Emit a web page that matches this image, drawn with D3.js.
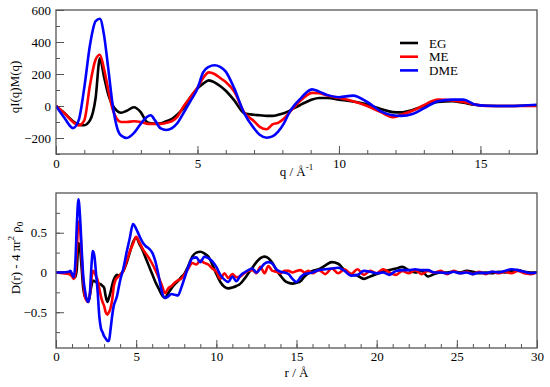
<!DOCTYPE html>
<html>
<head>
<meta charset="utf-8">
<script src="https://cdn.jsdelivr.net/npm/d3@7"></script>
<style>
  body { margin: 0; background: #fff; }
  svg text { font-family: "Liberation Serif", "Times New Roman", serif; fill: #000; }
</style>
</head>
<body>
<svg id="chart" width="550" height="387"></svg>
<script>
// series
const seriesNames = ['EG', 'ME', 'DME'];
const seriesColors = ['#000000', '#ff0000', '#0000ff'];

// top panel: qI(q)M(q) vs q
const qValues = [0, 0.3, 0.6, 0.8, 1.0, 1.2, 1.4, 1.55, 1.7, 1.85,
  2.0, 2.15, 2.3, 2.5, 2.75, 3.0, 3.2, 3.35, 3.5, 3.7,
  3.9, 4.1, 4.3, 4.5, 4.75, 5.0, 5.2, 5.4, 5.6, 5.8,
  6.0, 6.3, 6.65, 7.0, 7.2, 7.45, 7.65, 7.85, 8.05, 8.25,
  8.45, 8.65, 8.85, 9.05, 9.3, 9.6, 10.0, 10.5, 11.0, 11.5,
  11.9, 12.2, 12.6, 13.0, 13.5, 14.0, 14.4, 14.8, 15.2, 16.0,
  17.0];
const qEG = [0, -45, -95, -115, -120, -90, 50, 298, 180, 70,
  5, -30, -42, -30, -8, -40, -98, -108, -110, -108,
  -95, -80, -52, -15, 55, 110, 140, 160, 148, 125,
  95, 35, -45, -55, -58, -62, -62, -55, -45, -30,
  -10, 8, 25, 40, 50, 50, 40, 28, 10, -20,
  -38, -40, -25, 0, 25, 30, 20, 8, 2, 0,
  5];
const qME = [0, -45, -100, -122, -90, 130, 290, 320, 230, 100,
  -20, -80, -100, -100, -95, -100, -110, -112, -112, -112,
  -105, -95, -65, -5, 55, 115, 175, 210, 200, 175,
  150, 90, -40, -95, -130, -145, -115, -105, -80, -40,
  0, 35, 65, 82, 80, 65, 50, 30, 0, -40,
  -70, -55, -30, 5, 40, 35, 25, 10, 0, 0,
  0];
const qDME = [0, -75, -138, -90, 115, 380, 530, 545, 440, 230,
  10, -130, -185, -200, -170, -110, -70, -58, -90, -140,
  -150, -138, -105, -46, 30, 110, 210, 245, 255, 245,
  215, 110, -45, -140, -180, -198, -190, -160, -110, -40,
  10, 48, 85, 104, 90, 68, 55, 65, 25, -35,
  -58, -62, -50, -15, 30, 40, 40, 10, 2, 0,
  8];

// bottom panel: D(r) - 4 pi r^2 rho0 vs r
const rValues = [0, 0.4, 0.8, 0.9, 1.0, 1.1, 1.2, 1.3, 1.4, 1.5,
  1.6, 1.7, 1.8, 1.9, 2.0, 2.1, 2.2, 2.3, 2.4, 2.5,
  2.6, 2.7, 2.8, 2.9, 3.0, 3.1, 3.2, 3.3, 3.4, 3.5,
  3.6, 3.7, 3.8, 3.9, 4.0,
  4.2, 4.4, 4.6, 4.8, 5.0, 5.2, 5.4, 5.6, 5.8, 6.0,
  6.2, 6.4, 6.6, 6.8, 7.0, 7.2, 7.4, 7.6, 7.8, 8.0,
  8.25, 8.5, 8.75, 9.0, 9.25, 9.5, 9.75, 10.0,
  10.25, 10.5, 10.75, 11.0, 11.25, 11.5, 11.75, 12.0,
  12.25, 12.5, 12.75, 13.0, 13.25, 13.5, 13.75, 14.0,
  14.25, 14.5, 14.75, 15.0, 15.25, 15.5, 15.75, 16.0,
  16.4, 16.8, 17.2, 17.6, 18.0, 18.4, 18.8, 19.2, 19.6, 20.0,
  20.4, 20.8, 21.2, 21.6, 22.0, 22.4, 22.8, 23.2, 23.6, 24.0,
  24.4, 24.8, 25.2, 25.6, 26.0, 26.4, 26.8, 27.2, 27.6, 28.0,
  28.4, 28.8, 29.2, 29.6, 30.0];
const dEG = [0, 0, 0, -0.01, -0.02, -0.04, -0.06, 0.05, 0.37, 0.3,
  0.05, -0.2, -0.3, -0.33, -0.37, -0.3, -0.18, -0.1, -0.11, -0.12,
  -0.13, -0.14, -0.15, -0.17, -0.19, -0.3, -0.37, -0.32, -0.25, -0.16,
  -0.09, -0.05, -0.03, -0.04, -0.03,
  0.02, 0.12, 0.25, 0.38, 0.44, 0.36, 0.28, 0.18, 0.08, -0.02,
  -0.12, -0.2, -0.28, -0.32, -0.26, -0.2, -0.15, -0.11, -0.06, -0.02,
  0.08, 0.2, 0.25, 0.26, 0.24, 0.2, 0.1, -0.02,
  -0.12, -0.18, -0.2, -0.19, -0.17, -0.14, -0.08, -0.01,
  0.06, 0.13, 0.18, 0.2, 0.18, 0.12, 0.03, -0.04,
  -0.1, -0.13, -0.14, -0.13, -0.11, -0.05, -0.01, 0.02,
  0.04, 0.09, 0.13, 0.11, 0.03, -0.02, -0.04, -0.08, -0.05, -0.02,
  0.01, 0.03, 0.05, 0.07, 0.03, 0.0, 0.02, -0.05, -0.02, 0.0,
  0.0, 0.01, 0.0, 0.02, 0.01, -0.01, 0.0, -0.01, 0.01, 0.0,
  0.02, 0.03, 0.01, 0.0, 0.0];
const dME = [0, -0.01, -0.02, -0.03, -0.05, -0.08, -0.02, 0.3, 0.64, 0.58,
  0.2, -0.1, -0.3, -0.35, -0.37, -0.3, -0.1, 0.02, 0.0, -0.05,
  -0.1, -0.2, -0.3, -0.37, -0.42, -0.5, -0.53, -0.5, -0.45, -0.35,
  -0.18, -0.1, -0.07, -0.05, -0.03,
  0.02, 0.14, 0.26, 0.36, 0.45, 0.38, 0.3, 0.24, 0.18, 0.11,
  0.03, -0.06, -0.16, -0.26, -0.2, -0.17, -0.13, -0.1, -0.08, -0.03,
  0.05, 0.12, 0.1, 0.15, 0.12, 0.1, 0.05, 0.01,
  -0.08, -0.01, -0.07, -0.02, -0.06, -0.05, -0.01, 0.02,
  0.03, -0.01, 0.07, -0.01, 0.08, 0.02, 0.01, -0.01,
  0.02, 0.02, 0.0, 0.02, 0.03, 0.0, 0.02, -0.01,
  0.03, -0.02, 0.05, -0.01, 0.04, -0.02, 0.04, -0.03, 0.02, -0.01,
  0.04, 0.0, -0.03, 0.02, -0.01, 0.03, -0.02, 0.02, 0.0, 0.02,
  -0.02, 0.02, -0.01, 0.01, -0.02, 0.01, -0.02, 0.01, -0.01, 0.01,
  -0.01, 0.02, -0.01, -0.02, 0.0];
const dDME = [0, 0, 0.01, 0.02, -0.02, -0.06, 0.1, 0.6, 0.92, 0.7,
  0.3, -0.05, -0.22, -0.33, -0.37, -0.3, 0.05, 0.27, 0.2, -0.02,
  -0.25, -0.55, -0.7, -0.75, -0.8, -0.83, -0.86, -0.86, -0.72, -0.55,
  -0.42, -0.36, -0.3, -0.2, -0.1,
  0.05, 0.25, 0.43, 0.61, 0.55, 0.46, 0.38, 0.33, 0.3, 0.25,
  0.14, -0.04, -0.24, -0.32, -0.3, -0.27, -0.28, -0.29, -0.2, -0.08,
  0.07, 0.18, 0.19, 0.13, 0.2, 0.18, 0.14, 0.07,
  -0.03, -0.09, -0.12, -0.05, -0.11, -0.04, 0.0, 0.03,
  0.05, 0.0, 0.05, 0.11, 0.13, 0.11, 0.04, 0.01,
  0.0, -0.02, -0.08, -0.12, -0.06, -0.02, -0.01, 0.0,
  0.03, 0.04, 0.05, 0.06, 0.02, -0.04, -0.03, 0.02, 0.01, -0.01,
  0.0, -0.03, 0.02, 0.03, 0.03, 0.04, 0.03, 0.03, 0.0, 0.0,
  -0.01, 0.01, -0.01, 0.0, -0.02, 0.0, -0.01, 0.01, 0.0, 0.02,
  0.04, 0.03, 0.01, -0.01, 0.0];

// tick values
const qMajor = [0, 5, 10, 15];
const qMinor = d3.range(0, 18, 1);
const qYMajor = [-200, 0, 200, 400, 600];
const qYMinor = d3.range(-300, 601, 100);
const rMajor = [0, 5, 10, 15, 20, 25, 30];
const rMinor = d3.range(0, 31, 1);
const rYMajor = [-0.5, 0, 0.5];
const rYMinor = [-0.75, -0.5, -0.25, 0, 0.25, 0.5, 0.75];

const svg = d3.select('#chart');
const frameColor = '#555';

function drawPanel(cfg) {
  const x = d3.scaleLinear().domain(cfg.xDomain).range([cfg.left, cfg.right]);
  const y = d3.scaleLinear().domain(cfg.yDomain).range([cfg.bottom, cfg.top]);
  const g = svg.append('g');

  g.append('clipPath')
      .attr('id', 'clip-' + cfg.id)
    .append('rect')
      .attr('x', cfg.left)
      .attr('y', cfg.top)
      .attr('width', cfg.right - cfg.left)
      .attr('height', cfg.bottom - cfg.top);

  // minor ticks
  g.append('g')
      .attr('transform', `translate(0,${cfg.bottom})`)
      .call(d3.axisBottom(x).tickValues(cfg.xMinor).tickSize(-4).tickFormat(''))
      .call(a => a.select('.domain').remove());
  g.append('g')
      .attr('transform', `translate(${cfg.left},0)`)
      .call(d3.axisLeft(y).tickValues(cfg.yMinor).tickSize(-4).tickFormat(''))
      .call(a => a.select('.domain').remove());

  // major ticks and labels
  g.append('g')
      .attr('transform', `translate(0,${cfg.bottom})`)
      .call(d3.axisBottom(x).tickValues(cfg.xMajor).tickSize(-8).tickPadding(cfg.xPad)
          .tickFormat(d3.format('d')))
      .call(a => a.select('.domain').remove())
      .call(a => a.selectAll('text').attr('font-size', 13));
  g.append('g')
      .attr('transform', `translate(${cfg.left},0)`)
      .call(d3.axisLeft(y).tickValues(cfg.yMajor).tickSize(-8).tickPadding(cfg.yPad)
          .tickFormat(cfg.yFormat))
      .call(a => a.select('.domain').remove())
      .call(a => a.selectAll('text').attr('font-size', 13));

  g.selectAll('.tick line').attr('stroke', frameColor);
  g.selectAll('.tick text').attr('font-family', '"Liberation Serif", serif');

  // curves
  const line = d3.line()
      .x(d => x(d[0]))
      .y(d => y(d[1]))
      .curve(d3.curveMonotoneX);

  g.append('g')
      .attr('clip-path', `url(#clip-${cfg.id})`)
    .selectAll('path')
    .data(cfg.series)
    .join('path')
      .attr('fill', 'none')
      .attr('stroke', (d, i) => seriesColors[i])
      .attr('stroke-width', 2.6)
      .attr('stroke-linejoin', 'round')
      .attr('d', d => line(d3.zip(cfg.xs, d)));

  // frame
  g.append('rect')
      .attr('x', cfg.left)
      .attr('y', cfg.top)
      .attr('width', cfg.right - cfg.left)
      .attr('height', cfg.bottom - cfg.top)
      .attr('fill', 'none')
      .attr('stroke', frameColor)
      .attr('stroke-width', 1.3);

  return g;
}

const topPanel = drawPanel({
  id: 'q', left: 56, right: 537, top: 10, bottom: 154,
  xDomain: [0, 17], yDomain: [-300, 600],
  xMajor: qMajor, xMinor: qMinor, yMajor: qYMajor, yMinor: qYMinor,
  xPad: 5, yPad: 5, yFormat: d3.format('d'),
  xs: qValues, series: [qEG, qME, qDME]
});

const bottomPanel = drawPanel({
  id: 'r', left: 56, right: 537, top: 193, bottom: 348,
  xDomain: [0, 30], yDomain: [-0.95, 1.0],
  xMajor: rMajor, xMinor: rMinor, yMajor: rYMajor, yMinor: rYMinor,
  xPad: 4, yPad: 9, yFormat: d => d === 0 ? '0' : d3.format('.1f')(d),
  xs: rValues, series: [dEG, dME, dDME]
});

// axis titles
const qTitle = svg.append('text')
    .attr('x', 296.5).attr('y', 176)
    .attr('text-anchor', 'middle').attr('font-size', 13);
qTitle.append('tspan').text('q / Å');
qTitle.append('tspan').attr('font-size', 9).attr('dy', -6).text('-1');

svg.append('text')
    .attr('x', 296.5).attr('y', 377)
    .attr('text-anchor', 'middle').attr('font-size', 13)
    .text('r / Å');

svg.append('text')
    .attr('transform', 'translate(19,87) rotate(-90)')
    .attr('text-anchor', 'middle').attr('font-size', 13)
    .text('qI(q)M(q)');

const dTitle = svg.append('text')
    .attr('transform', 'translate(20,258) rotate(-90)')
    .attr('text-anchor', 'middle').attr('font-size', 13);
dTitle.append('tspan').text('D(r) - 4 πr');
dTitle.append('tspan').attr('font-size', 9).attr('dy', -6).text('2');
dTitle.append('tspan').attr('dy', 6).text(' ρ');
dTitle.append('tspan').attr('font-size', 9).attr('dy', 3).text('0');

// legend
const legend = svg.append('g').attr('transform', 'translate(400,43)');
legend.selectAll('g')
  .data(seriesNames)
  .join('g')
    .attr('transform', (d, i) => `translate(0,${i * 13.7})`)
    .call(s => s.append('line')
        .attr('x1', 0).attr('x2', 18)
        .attr('stroke', (d, i) => seriesColors[i])
        .attr('stroke-width', 2.6))
    .call(s => s.append('text')
        .attr('x', 29).attr('y', 4.5)
        .attr('font-size', 13)
        .text(d => d));
</script>
</body>
</html>
